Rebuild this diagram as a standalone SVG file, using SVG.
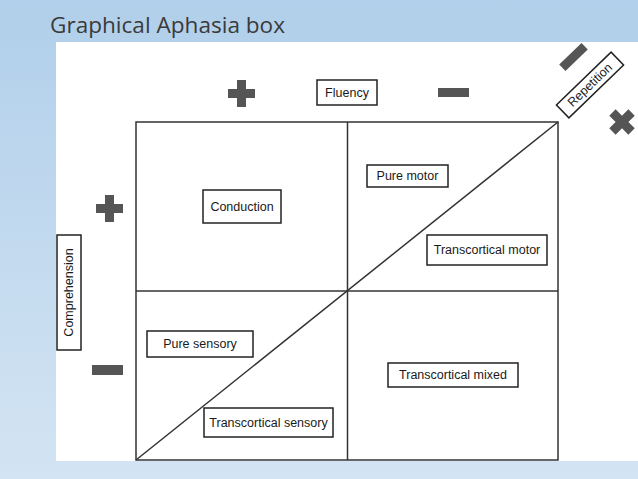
<svg xmlns="http://www.w3.org/2000/svg" width="638" height="479" viewBox="0 0 638 479">
<defs>
<linearGradient id="bg" x1="0" y1="0" x2="0" y2="1">
<stop offset="0" stop-color="#b1cfea"/>
<stop offset="1" stop-color="#d3e4f3"/>
</linearGradient>
<style>
.box{fill:#fff;stroke:#222;stroke-width:1.5}
.lbl{font-family:"Liberation Sans",Arial,sans-serif;font-size:12.5px;fill:#1a1a1a;text-anchor:middle;dominant-baseline:central}
.grid{fill:none;stroke:#333;stroke-width:1.5}
.sym{fill:#555}
</style>
</defs>
<rect x="0" y="0" width="638" height="479" fill="url(#bg)"/>
<rect x="56" y="42" width="582" height="419" fill="#fff"/>
<text x="50" y="33" font-family="Open Sans, Liberation Sans, sans-serif" font-size="21" fill="#3a3a3a" textLength="235" lengthAdjust="spacingAndGlyphs">Graphical Aphasia box</text>

<g id="connectors">
<rect class="grid" x="136" y="122" width="422" height="338"/>
<line class="grid" x1="347.5" y1="122" x2="347.5" y2="460"/>
<line class="grid" x1="136" y1="291" x2="558" y2="291"/>
<line class="grid" x1="136" y1="460" x2="558" y2="122" stroke-width="1.2"/>
</g>

<g id="plus-top"><path class="sym" d="M237 80h9v9h9v9h-9v9h-9v-9h-9v-9h9z"/></g>
<g id="fluency"><rect class="box" x="317" y="80" width="60" height="25"/><text class="lbl" x="347" y="92.5">Fluency</text></g>
<g id="minus-top"><rect class="sym" x="438" y="88" width="31" height="9"/></g>
<g id="minus-rep"><rect class="sym" x="558" y="52.5" width="31" height="9" transform="rotate(-44 573.5 57)"/></g>
<g id="repetition" transform="translate(590 85) rotate(-44)"><rect class="box" x="-38" y="-9" width="76" height="18"/><text class="lbl" x="0" y="0" font-size="12">Repetition</text></g>
<g id="plus-rep" transform="translate(622 122) rotate(45)"><path class="sym" d="M-4.5 -13.5h9v9h9v9h-9v9h-9v-9h-9v-9h9z"/></g>

<g id="plus-left"><path class="sym" d="M105 195h9v9h9v9h-9v9h-9v-9h-9v-9h9z"/></g>
<g id="comprehension"><rect class="box" x="57" y="235" width="24" height="115"/><text class="lbl" x="69" y="292.5" transform="rotate(-90 69 292.5)">Comprehension</text></g>
<g id="minus-left"><rect class="sym" x="92" y="365" width="31" height="10"/></g>

<g id="conduction"><rect class="box" x="203" y="190" width="78" height="33"/><text class="lbl" x="242" y="206.5">Conduction</text></g>
<g id="pure-motor"><rect class="box" x="367" y="165" width="81" height="22"/><text class="lbl" x="407.5" y="176">Pure motor</text></g>
<g id="transcortical-motor"><rect class="box" x="427" y="235" width="120" height="30"/><text class="lbl" x="487" y="250">Transcortical motor</text></g>
<g id="pure-sensory"><rect class="box" x="147" y="331" width="106" height="26"/><text class="lbl" x="200" y="344">Pure sensory</text></g>
<g id="transcortical-mixed"><rect class="box" x="388" y="363" width="130" height="24"/><text class="lbl" x="453" y="375">Transcortical mixed</text></g>
<g id="transcortical-sensory"><rect class="box" x="204" y="408" width="129" height="29"/><text class="lbl" x="268.5" y="422.5">Transcortical sensory</text></g>
</svg>
